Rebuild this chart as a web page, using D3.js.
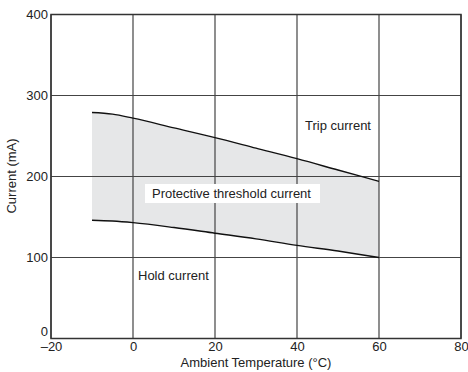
<!DOCTYPE html>
<html><head><meta charset="utf-8">
<script src="https://cdn.jsdelivr.net/npm/d3@7"></script>
<style>body{margin:0;background:#fff}svg{display:block}text{font-family:"Liberation Sans",Arial,sans-serif;fill:#222}</style>
</head><body><svg id="c" width="468" height="372"></svg>
<script>
const temps = [-10, -5, 0, 10, 20, 30, 40, 50, 60];
const tripCurrent = [279, 277, 272, 260, 248, 235, 222, 208, 194];
const holdCurrent = [146, 145, 143, 137, 130, 123, 115, 108, 100];
const xTicks = [-20, 0, 20, 40, 60, 80];
const yTicks = [0, 100, 200, 300, 400];
const labels = {trip: "Trip current", prot: "Protective threshold current", hold: "Hold current",
  xTitle: "Ambient Temperature (°C)", yTitle: "Current (mA)"};

const svg = d3.select("#c");
const x = d3.scaleLinear().domain([-20, 80]).range([51, 461]);
const y = d3.scaleLinear().domain([0, 400]).range([338.5, 14.5]);
const data = temps.map((t, i) => ({t, hi: tripCurrent[i], lo: holdCurrent[i]}));
const FS = 13;

svg.append("path").datum(data)
  .attr("d", d3.area().x(d => x(d.t)).y0(d => y(d.lo)).y1(d => y(d.hi)).curve(d3.curveMonotoneX))
  .attr("fill", "#e6e7e8");

const g = svg.append("g");
xTicks.forEach(t => g.append("line").attr("x1", x(t)).attr("x2", x(t)).attr("y1", y(0)).attr("y2", y(400))
  .attr("stroke", "#444").attr("stroke-width", 1.2));
yTicks.forEach(t => g.append("line").attr("x1", x(-20)).attr("x2", x(80)).attr("y1", y(t)).attr("y2", y(t))
  .attr("stroke", "#444").attr("stroke-width", 1.2));

const line = key => d3.line().x(d => x(d.t)).y(d => y(d[key])).curve(d3.curveMonotoneX);
svg.append("path").datum(data).attr("d", line("hi")).attr("fill", "none").attr("stroke", "#111").attr("stroke-width", 1.4);
svg.append("path").datum(data).attr("d", line("lo")).attr("fill", "none").attr("stroke", "#111").attr("stroke-width", 1.4);

svg.append("rect").attr("x", x(-20)).attr("y", y(400)).attr("width", x(80) - x(-20)).attr("height", y(0) - y(400))
  .attr("fill", "none").attr("stroke", "#333").attr("stroke-width", 1.5);

const fmt = v => v < 0 ? "\u2013" + Math.abs(v) : String(v);
const xAxis = d3.axisBottom(x).tickValues(xTicks).tickSize(0).tickPadding(3.5).tickFormat(fmt);
const ax = svg.append("g").attr("transform", `translate(0,${y(0)})`).call(xAxis);
ax.select(".domain").remove();
ax.selectAll("text").attr("font-size", FS).attr("fill", "#222");
const yAxis = d3.axisLeft(y).tickValues(yTicks).tickSize(0).tickPadding(3);
const ay = svg.append("g").attr("transform", `translate(${x(-20)},0)`).call(yAxis);
ay.select(".domain").remove();
ay.selectAll("text").attr("font-size", FS).attr("fill", "#222");
ay.selectAll(".tick").filter(d => d === 0).select("text").attr("dy", "-0.2em");

svg.append("text").attr("x", 256).attr("y", 367).attr("text-anchor", "middle").attr("font-size", FS).text(labels.xTitle);
svg.append("text").attr("transform", "translate(16,176) rotate(-90)").attr("text-anchor", "middle").attr("font-size", FS).text(labels.yTitle);

svg.append("text").attr("x", 305).attr("y", 130).attr("font-size", FS).text(labels.trip);
svg.append("rect").attr("x", 145).attr("y", 184).attr("width", 175).attr("height", 19).attr("fill", "#fff");
svg.append("text").attr("x", 152).attr("y", 197.5).attr("font-size", FS).text(labels.prot);
svg.append("text").attr("x", 138).attr("y", 280).attr("font-size", FS).text(labels.hold);
</script></body></html>
